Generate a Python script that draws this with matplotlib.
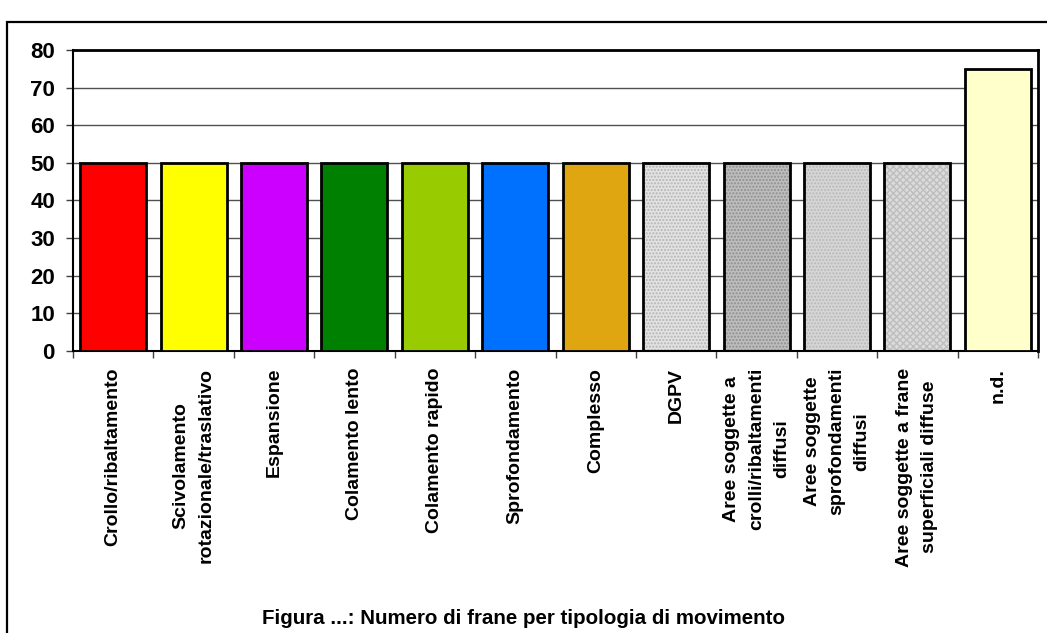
import matplotlib
matplotlib.use("Agg")
import matplotlib.pyplot as plt
from matplotlib.patches import Rectangle
import numpy as np

plt.rcParams['font.family'] = ['Liberation Sans', 'DejaVu Sans']
plt.rcParams['font.weight'] = 'bold'
plt.rcParams['hatch.linewidth'] = 1.0

categories = [
    "Crollo/ribaltamento",
    "Scivolamento\nrotazionale/traslativo",
    "Espansione",
    "Colamento lento",
    "Colamento rapido",
    "Sprofondamento",
    "Complesso",
    "DGPV",
    "Aree soggette a\ncrolli/ribaltamenti\ndiffusi",
    "Aree soggette\nsprofondamenti\ndiffusi",
    "Aree soggette a frane\nsuperficiali diffuse",
    "n.d.",
]
values = [50, 50, 50, 50, 50, 50, 50, 50, 50, 50, 50, 75]
y_ticks = [0, 10, 20, 30, 40, 50, 60, 70, 80]

colors = ['#FF0000', '#FFFF00', '#CC00FF', '#008000', '#99CC00', '#0070FF',
          '#E0A612', '#E2E2E2', '#BDBDBD', '#D6D6D6', '#DCDCDC', '#FFFFCC']
hatches = [None, None, None, None, None, None, None,
           '.....', '.....', '.....', 'xxxxx', None]
hatch_colors = [None] * 7 + ['#B4B4B4', '#8E8E8E', '#B8B8B8', '#BEBEBE', None]

caption = "Figura ...: Numero di frane per tipologia di movimento"

W, H = 1047, 633
fig = plt.figure(figsize=(W / 100, H / 100), dpi=100)
ax = fig.add_axes([73 / W, 1 - 351 / H, (1038 - 73) / W, (351 - 50) / H])

x = np.arange(len(categories))
bw = 0.82
for i, (v, c, h, hc) in enumerate(zip(values, colors, hatches, hatch_colors)):
    if h:
        ax.bar(x[i], v, width=bw, color=c, hatch=h, edgecolor=hc,
               linewidth=0, zorder=2)
        ax.bar(x[i], v, width=bw, fill=False, edgecolor='black',
               linewidth=2.0, zorder=3)
    else:
        ax.bar(x[i], v, width=bw, color=c, edgecolor='black',
               linewidth=2.0, zorder=3)

ax.set_xlim(-0.5, len(categories) - 0.5)
ax.set_ylim(0, 80)
ax.set_yticks(y_ticks)
ax.set_yticklabels([str(t) for t in y_ticks], fontsize=16, fontweight='bold')
ax.yaxis.grid(True, color='#505050', linewidth=1.0, zorder=0)
ax.set_axisbelow(True)

ax.set_xticks(x)
ax.set_xticklabels(categories, rotation=90, fontsize=14.0, fontweight='bold',
                   ha='center', va='top', multialignment='center',
                   linespacing=1.6)
ax.set_xticks(np.arange(len(categories) + 1) - 0.5, minor=True)
ax.tick_params(axis='x', which='major', length=0, pad=12)
ax.tick_params(axis='x', which='minor', length=5, width=1.0, color='#404040')
ax.tick_params(axis='y', length=5, width=1.0, pad=8, color='#404040')

for side in ['left', 'bottom']:
    ax.spines[side].set_linewidth(1.5)
    ax.spines[side].set_color('black')
for side in ['top', 'right']:
    ax.spines[side].set_linewidth(2.0)
    ax.spines[side].set_color('black')

fig.text(0.5, 1 - 618 / H, caption, ha='center', va='center',
         fontsize=14.8, fontweight='bold')

# outer frame of the figure, opening past the right and bottom edges
frame = Rectangle((7 / W, -0.2), 1.5, 1.2 - 22 / H, transform=fig.transFigure,
                  fill=False, edgecolor='black', linewidth=1.6, clip_on=False)
fig.add_artist(frame)

fig.savefig("out.png", dpi=100)
